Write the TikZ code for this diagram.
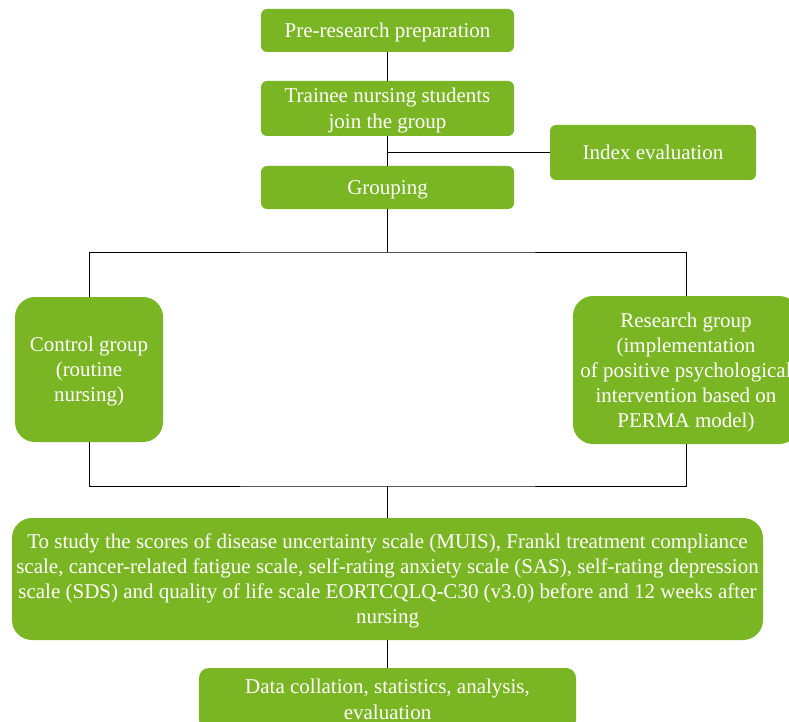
\documentclass[tikz,border=0pt]{standalone}
\usepackage{fontspec}
\setmainfont{Liberation Serif}
\usetikzlibrary{shapes.geometric, arrows}
\definecolor{leaf}{HTML}{7AB523}
\tikzstyle{stepbox} = [rectangle, rounded corners=6pt, minimum width=253pt, minimum height=43pt, text centered, align=center, fill=leaf, text=white, inner sep=0pt, text depth=0pt, font=\fontsize{21}{26}\selectfont]
\tikzstyle{groupbox} = [stepbox, rounded corners=20pt, font=\fontsize{21}{25}\selectfont]
\tikzstyle{line} = [line width=0.9pt, black]

\begin{document}
\begin{tikzpicture}[x=1pt, y=-1pt, node distance=78pt]
  \useasboundingbox (0,0) rectangle (789,722);
  \node (prep) [stepbox] at (387.5,30.5) {Pre-research preparation};
  \node (join) [stepbox, below of=prep, minimum height=55pt] {Trainee nursing students\\join the group};
  \node (grouping) [stepbox, below of=join, yshift=-1pt] {Grouping};
  \node (index) [stepbox, minimum width=206pt, minimum height=55pt] at (653,152.5) {Index evaluation};
  \node (control) [groupbox, minimum width=148pt, minimum height=145pt] at (89,369.5) {Control group\\(routine\\nursing)};
  \node (research) [groupbox, minimum width=226pt, minimum height=148pt] at (686,370) {Research group\\(implementation\\of positive psychological\\intervention based on\\PERMA model)};
  \node (study) [groupbox, minimum width=751pt, minimum height=122pt] at (387.5,579) {To study the scores of disease uncertainty scale (MUIS), Frankl treatment compliance\\scale, cancer-related fatigue scale, self-rating anxiety scale (SAS), self-rating depression\\scale (SDS) and quality of life scale EORTCQLQ-C30 (v3.0) before and 12 weeks after\\nursing};
  \node (data) [stepbox, rounded corners=10pt, minimum width=377pt, minimum height=62pt] at (387.5,699) {Data collation, statistics, analysis,\\evaluation};
  \coordinate (split) at (387.5,252);
  \coordinate (merge) at (387.5,486);

  \draw [line] (prep) -- (join);
  \draw [line] (join) -- (grouping);
  \draw [line] (index.west) -- (index.west -| join.south);
  \draw [line] (grouping) -- (split);
  \draw [line] (control.north) |- (split) -| (research.north);
  \draw [line] (control.south) |- (merge) -| (research.south);
  \draw [line] (merge) -- (study);
  \draw [line] (study) -- (data);
\end{tikzpicture}
\end{document}
